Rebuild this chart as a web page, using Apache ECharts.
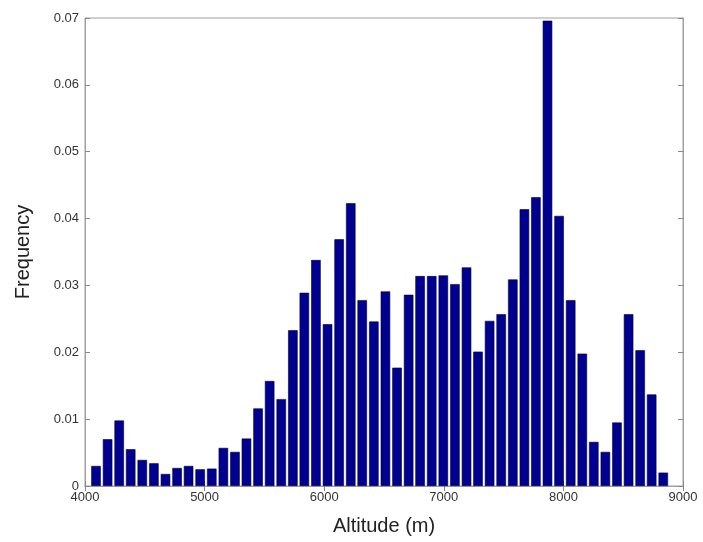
<!DOCTYPE html>
<html>
<head>
    <meta charset="utf-8">
    <title>Altitude histogram</title>
    <script src="https://cdn.jsdelivr.net/npm/echarts@6/dist/echarts.min.js"></script>
    <style>
        html, body { margin: 0; padding: 0; background: #fff; }
        #chart1 { width: 703px; height: 542px; }
    </style>
</head>
<body>
<div id="chart1"></div>
<script type="text/javascript">
    // bin centres (m)
    var binCenters = [4092, 4189, 4286, 4382, 4479, 4576, 4673, 4770, 4866, 4963,
        5060, 5157, 5254, 5350, 5447, 5544, 5641, 5738, 5834, 5931,
        6028, 6125, 6222, 6318, 6415, 6512, 6609, 6706, 6802, 6899,
        6996, 7093, 7190, 7286, 7383, 7480, 7577, 7674, 7770, 7867,
        7964, 8061, 8158, 8254, 8351, 8448, 8545, 8642, 8738, 8835];
    // frequency per bin
    var frequency = [0.0030, 0.0070, 0.0098, 0.0055, 0.0039, 0.0034, 0.0018, 0.0027, 0.0030, 0.0025,
        0.0026, 0.0057, 0.0051, 0.0071, 0.0116, 0.0157, 0.0130, 0.0233, 0.0289, 0.0338,
        0.0242, 0.0369, 0.0423, 0.0278, 0.0246, 0.0291, 0.0177, 0.0286, 0.0314, 0.0314,
        0.0315, 0.0302, 0.0327, 0.0201, 0.0247, 0.0257, 0.0309, 0.0414, 0.0432, 0.0696,
        0.0404, 0.0278, 0.0198, 0.0066, 0.0051, 0.0095, 0.0257, 0.0203, 0.0137, 0.0020];
    var xTicks = [4000, 5000, 6000, 7000, 8000, 9000];
    var yTicks = [0, 0.01, 0.02, 0.03, 0.04, 0.05, 0.06, 0.07];

    var myChart1 = echarts.init(document.getElementById('chart1'));

    var data = binCenters.map(function (x, i) { return [x, frequency[i]]; });
    var tickCol = '#888';
    var font = 'Liberation Sans, Arial, sans-serif';

    myChart1.setOption({
        animation: false,
        grid: {
            left: 85, right: 20, top: 18, bottom: 56,
            show: true, borderColor: '#a0a0a0', borderWidth: 1
        },
        xAxis: [{
            type: 'value',
            min: xTicks[0], max: xTicks[xTicks.length - 1], interval: 1000,
            name: 'Altitude (m)', nameLocation: 'middle', nameGap: 30,
            nameTextStyle: { color: '#222', fontSize: 20, fontFamily: font },
            axisLine: { lineStyle: { color: '#a0a0a0' } },
            axisTick: { inside: true, length: 5, lineStyle: { color: tickCol } },
            axisLabel: { margin: 5, color: '#333', fontSize: 13, fontFamily: font,
                formatter: function (v) { return String(v); } },
            splitLine: { show: false }
        }, {
            type: 'value', position: 'top',
            min: xTicks[0], max: xTicks[xTicks.length - 1], interval: 1000,
            axisLine: { lineStyle: { color: '#a0a0a0' } },
            axisTick: { inside: true, length: 5, lineStyle: { color: tickCol } },
            axisLabel: { show: false },
            splitLine: { show: false }
        }],
        yAxis: [{
            type: 'value',
            min: yTicks[0], max: yTicks[yTicks.length - 1], interval: 0.01,
            name: 'Frequency', nameLocation: 'middle', nameGap: 52, nameRotate: 90,
            nameTextStyle: { color: '#222', fontSize: 20, fontFamily: font },
            axisLine: { show: true, lineStyle: { color: '#a0a0a0' } },
            axisTick: { show: true, inside: true, length: 5, lineStyle: { color: tickCol } },
            axisLabel: { margin: 6, color: '#333', fontSize: 13, fontFamily: font },
            splitLine: { show: false }
        }, {
            type: 'value', position: 'right',
            min: yTicks[0], max: yTicks[yTicks.length - 1], interval: 0.01,
            axisLine: { show: true, lineStyle: { color: '#a0a0a0' } },
            axisTick: { show: true, inside: true, length: 5, lineStyle: { color: tickCol } },
            axisLabel: { show: false },
            splitLine: { show: false }
        }],
        series: [{
            name: 'Frequency',
            type: 'bar',
            xAxisIndex: 0,
            yAxisIndex: 0,
            barWidth: 9.5,
            itemStyle: { color: '#000090', borderColor: '#000030', borderWidth: 0.6 },
            data: data
        }]
    });
</script>
</body>
</html>
